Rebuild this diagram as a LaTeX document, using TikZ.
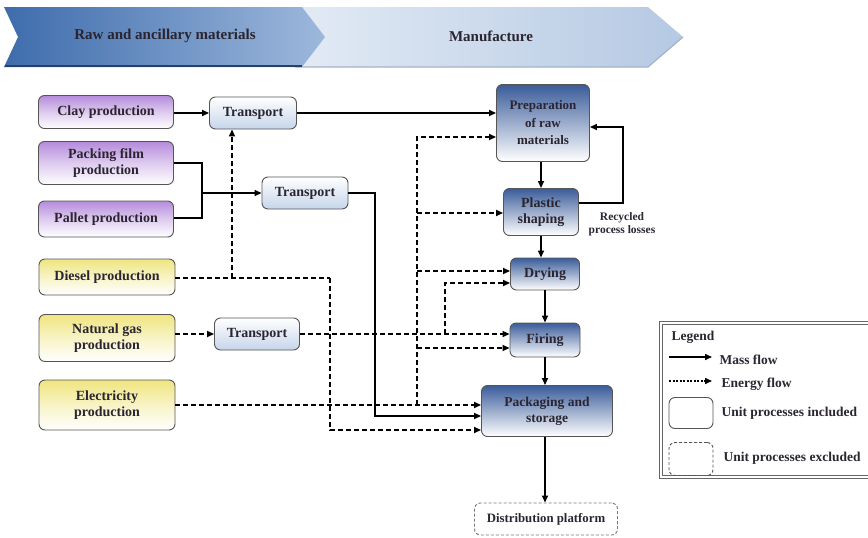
\documentclass[tikz,border=0pt]{standalone}
\usepackage{fontspec}
\setmainfont{Liberation Serif}
\usetikzlibrary{arrows.meta}

\definecolor{purptop}{HTML}{B58BDB}
\definecolor{yeltop}{HTML}{EFE57F}
\definecolor{tranbot}{HTML}{C6D5EA}
\definecolor{proctop}{HTML}{3A5C9A}
\definecolor{boxline}{HTML}{555555}
\definecolor{txt}{HTML}{2A2530}
\definecolor{chevA}{HTML}{3E6CAC}
\definecolor{chevB}{HTML}{9DB8DC}
\definecolor{chevC}{HTML}{E3EBF5}
\definecolor{chevD}{HTML}{B5C9E3}

\tikzset{
  box/.style={draw=boxline, line width=0.9pt, rounded corners=6pt, align=center,
    inner sep=1pt, text=txt, font=\fontsize{14}{16}\selectfont\bfseries},
  rawbox/.style={box, top color=purptop, bottom color=white, middle color=purptop!45!white},
  fuelbox/.style={box, top color=yeltop, bottom color=white, middle color=yeltop!45!white},
  tranbox/.style={box, top color=white, bottom color=tranbot},
  unitbox/.style={box, top color=proctop, bottom color=white, middle color=proctop!50!white},
  outbox/.style={box, fill=none, dashed, dash pattern=on 3pt off 2pt, draw=boxline!80},
  mass/.style={line width=1.6pt, -{Triangle[length=7pt,width=6pt]}},
  massline/.style={line width=1.6pt},
  energy/.style={line width=1.6pt, dash pattern=on 5pt off 3pt, -{Triangle[length=7pt,width=6pt]}},
  energyline/.style={line width=1.6pt, dash pattern=on 5pt off 3pt},
  head/.style={font=\fontsize{15}{17}\selectfont\bfseries, text=txt},
  legtext/.style={font=\fontsize{13.5}{15}\selectfont\bfseries, text=txt, anchor=west},
}

\begin{document}
\begin{tikzpicture}[x=1pt,y=-1pt]
\useasboundingbox (0,0) rectangle (868,538);

% phase banner
\shade[left color=chevC, right color=chevD]
  (290,7) -- (648,7) -- (683,37) -- (648,67) -- (290,67) -- cycle;
\draw[chevD!70!gray, line width=1.2pt] (295,67) -- (648,67) -- (683,37);
\shade[left color=chevA, right color=chevB]
  (4,7) -- (302,7) -- (325,37) -- (302,67) -- (4,67) -- (18,37) -- cycle;
\draw[chevA!60!black, line width=2pt] (5,66) -- (302,66);
\node[head] (phaseA) at (165,36) {Raw and ancillary materials};
\node[head] (phaseB) at (491,36) {Manufacture};

% supply chain
\node[rawbox, minimum width=135pt, minimum height=33pt] (clay) at (106,112) {Clay production};
\node[rawbox, minimum width=135pt, minimum height=43pt] (film) at (106,163) {Packing film\\production};
\node[rawbox, minimum width=135pt, minimum height=36pt] (pallet) at (106,219) {Pallet production};
\node[fuelbox, minimum width=136pt, minimum height=36pt] (diesel) at (107,277) {Diesel production};
\node[fuelbox, minimum width=136pt, minimum height=47pt] (gas) at (107,338) {Natural gas\\production};
\node[fuelbox, minimum width=136pt, minimum height=50pt] (elec) at (107,405) {Electricity\\production};

\node[tranbox, minimum width=87pt, minimum height=32pt] (t1) at (253,113) {Transport};
\node[tranbox, minimum width=86pt, minimum height=32pt] (t2) at (305,193) {Transport};
\node[tranbox, minimum width=85pt, minimum height=32pt] (t3) at (257,334) {Transport};

% manufacture
\node[unitbox, minimum width=93pt, minimum height=77pt, font=\fontsize{13}{17.5}\selectfont\bfseries] (prep) at (543,123) {Preparation\\of raw\\materials};
\node[unitbox, minimum width=75pt, minimum height=47pt] (shape) at (541,212) {Plastic\\shaping};
\node[unitbox, minimum width=69pt, minimum height=32pt] (dry) at (545,274) {Drying};
\node[unitbox, minimum width=70pt, minimum height=34pt] (fire) at (545,340) {Firing};
\node[unitbox, minimum width=131pt, minimum height=51pt, font=\fontsize{13.5}{16}\selectfont\bfseries] (pack) at (547,411) {Packaging and\\storage};
\node[outbox, minimum width=143pt, minimum height=32pt, font=\fontsize{12.8}{15}\selectfont\bfseries] (dist) at (546,519) {Distribution platform};

\node[font=\fontsize{11.5}{13.5}\selectfont\bfseries, text=txt, align=center] (recyc) at (622,224) {Recycled\\process losses};

% mass flows
\draw[mass] (clay.east |- t1.west) -- (t1.west);
\draw[mass] (t1.east) -- (t1.east -| prep.west);
\coordinate (fj) at (202,193);
\draw[massline] (film.east |- 0,163) -- (fj |- 0,163) -- (fj |- 0,218) -- (pallet.east |- 0,218);
\draw[mass] (fj) -- (t2.west);
\coordinate (tj) at (375,416);
\draw[mass] (t2.east) -- (tj |- t2.east) -- (tj) -- (tj -| pack.west);
\draw[mass] (shape.north |- prep.south) -- (shape.north);
\draw[mass] (shape.south) -- (shape.south |- dry.north);
\draw[mass] (dry.south) -- (fire.north);
\draw[mass] (fire.south) -- (fire.south |- pack.north);
\draw[mass] (pack.south -| fire.south) -- (dist.north -| fire.south);
\coordinate (rj) at (623,203);
\draw[mass] (shape.east |- rj) -- (rj) -- (rj |- 0,127) -- (prep.east |- 0,127);

% energy flows
\coordinate (dj) at (232,278);
\coordinate (dk) at (330,278);
\draw[energyline] (diesel.east |- dj) -- (dk);
\draw[energy] (dj) -- (dj |- t1.south);
\draw[energy] (dk) -- (dk |- 0,430) -- (pack.west |- 0,430);
\draw[energy] (gas.east |- t3.west) -- (t3.west);
\draw[energy] (t3.east) -- (t3.east -| fire.west);
\coordinate (gj) at (445,334);
\draw[energy] (gj) -- (gj |- 0,283) -- (dry.west |- 0,283);
\coordinate (ej) at (417,405);
\draw[energy] (elec.east |- ej) -- (ej) -- (pack.west |- ej);
\draw[energy] (ej) -- (ej |- 0,137) -- (prep.west |- 0,137);
\draw[energy] (ej |- 0,213) -- (shape.west |- 0,213);
\draw[energy] (ej |- 0,271) -- (dry.west |- 0,271);
\draw[energy] (ej |- 0,348) -- (fire.west |- 0,348);

% legend
\draw[gray!80!black, line width=0.8pt] (659,321) rectangle (875,478);
\draw[gray!80!black, line width=0.8pt] (662,324) rectangle (872,475);
\node[legtext] (legtitle) at (668,337) {Legend};
\coordinate (la) at (669,357);
\coordinate (lb) at (712,357);
\draw[line width=1.5pt, -{Triangle[length=7pt,width=6pt]}] (la) -- (lb);
\node[legtext] (lmass) at (716,360) {Mass flow};
\coordinate (lc) at (669,381);
\coordinate (ld) at (712,381);
\draw[line width=1.5pt, dash pattern=on 2pt off 1.5pt, -{Triangle[length=7pt,width=6pt]}] (lc) -- (ld);
\node[legtext] (lenergy) at (718,384) {Energy flow};
\node[draw=boxline, line width=0.9pt, rounded corners=6pt, minimum width=44pt, minimum height=31pt] (linc) at (691,413) {};
\node[legtext] (ltinc) at (718,413) {Unit processes included};
\node[draw=boxline, line width=0.9pt, dash pattern=on 3pt off 2pt, rounded corners=6pt, minimum width=44pt, minimum height=33pt] (lexc) at (691,459) {};
\node[legtext] (ltexc) at (720,458) {Unit processes excluded};
\end{tikzpicture}
\end{document}
